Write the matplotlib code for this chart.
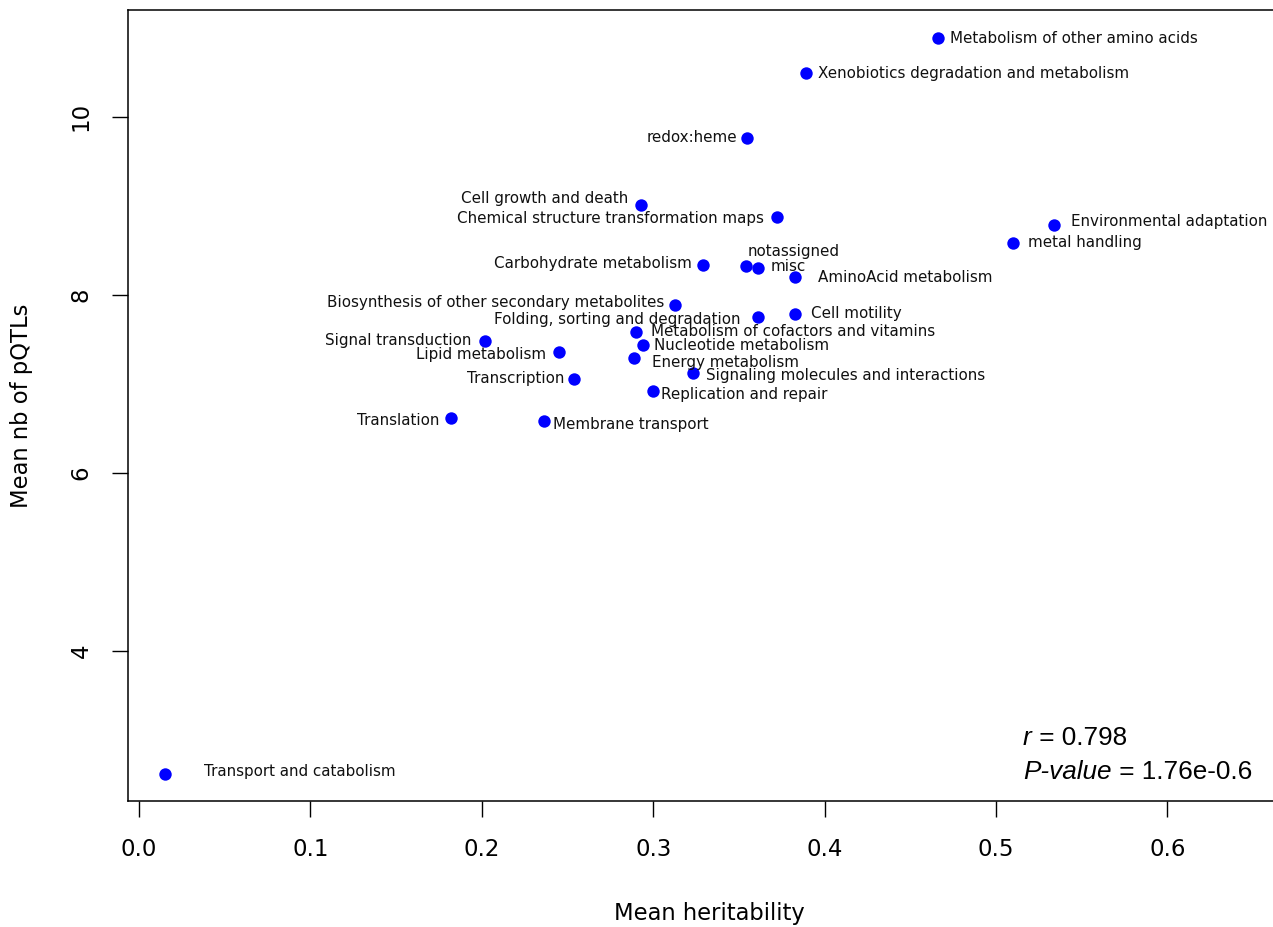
import matplotlib
matplotlib.use("Agg")
import matplotlib.pyplot as plt

# pathway categories, mean heritability (x) and mean number of pQTLs (y)
pathways = [
    "Metabolism of other amino acids", "Xenobiotics degradation and metabolism",
    "redox:heme", "Cell growth and death", "Chemical structure transformation maps",
    "Environmental adaptation", "metal handling", "Carbohydrate metabolism",
    "notassigned", "misc", "AminoAcid metabolism",
    "Biosynthesis of other secondary metabolites", "Folding, sorting and degradation",
    "Cell motility", "Metabolism of cofactors and vitamins", "Signal transduction",
    "Nucleotide metabolism", "Lipid metabolism", "Energy metabolism",
    "Signaling molecules and interactions", "Transcription", "Replication and repair",
    "Translation", "Membrane transport", "Transport and catabolism",
]
heritability = [0.466, 0.389, 0.355, 0.293, 0.372, 0.534, 0.510, 0.329,
                0.354, 0.361, 0.383, 0.313, 0.361, 0.383, 0.290, 0.202,
                0.294, 0.245, 0.289, 0.323, 0.254, 0.300, 0.182, 0.236, 0.015]
n_pqtls = [10.88, 10.49, 9.76, 9.01, 8.87, 8.78, 8.58, 8.34,
           8.33, 8.30, 8.20, 7.89, 7.75, 7.78, 7.58, 7.48,
           7.44, 7.36, 7.29, 7.12, 7.06, 6.92, 6.62, 6.58, 2.62]

r_value = "0.798"
p_value = "1.76e-0.6"

# label placement: (dx, dy) in pixels, side of the point
label_pos = {
    "Metabolism of other amino acids": (12, 0, "left"),
    "Xenobiotics degradation and metabolism": (12, 0, "left"),
    "redox:heme": (-10, 1, "right"),
    "Cell growth and death": (-13, 6, "right"),
    "Chemical structure transformation maps": (-13, -1, "right"),
    "Environmental adaptation": (17, 4, "left"),
    "metal handling": (15, 1, "left"),
    "Carbohydrate metabolism": (-11, 1, "right"),
    "notassigned": (2, 14, "left"),
    "misc": (13, 2, "left"),
    "AminoAcid metabolism": (23, 0, "left"),
    "Biosynthesis of other secondary metabolites": (-11, 2, "right"),
    "Folding, sorting and degradation": (-17, -2, "right"),
    "Cell motility": (16, 1, "left"),
    "Metabolism of cofactors and vitamins": (15, 1, "left"),
    "Signal transduction": (-14, 1, "right"),
    "Nucleotide metabolism": (11, -1, "left"),
    "Lipid metabolism": (-13, -3, "right"),
    "Energy metabolism": (18, -4, "left"),
    "Signaling molecules and interactions": (13, -2, "left"),
    "Transcription": (-10, 0, "right"),
    "Replication and repair": (8, -3, "left"),
    "Translation": (-12, -3, "right"),
    "Membrane transport": (9, -3, "left"),
    "Transport and catabolism": (39, 2, "left"),
}

W, H = 1273, 927
fig = plt.figure(figsize=(W / 100, H / 100), dpi=100)
# axes box runs a little past the right edge of the figure (cropped like the original)
ax = fig.add_axes([128 / W, (H - 801) / H, (1290 - 128) / W, (801 - 10) / H])

ax.scatter(heritability, n_pqtls, s=80, color="#0000ff", zorder=3, linewidths=0)

for name, x, y in zip(pathways, heritability, n_pqtls):
    dx, dy, side = label_pos[name]
    ax.annotate(name, (x, y), xytext=(dx, dy), textcoords="offset pixels",
                ha=side, va="center", fontsize=10.9, color="#111111")

ax.set_xlim(-0.0064, 0.6715)
ax.set_ylim(2.315, 11.20)
ax.set_xticks([0.0, 0.1, 0.2, 0.3, 0.4, 0.5, 0.6])
ax.set_xticklabels(["0.0", "0.1", "0.2", "0.3", "0.4", "0.5", "0.6"])
ax.set_yticks([4, 6, 8, 10])
ax.set_yticklabels(["4", "6", "8", "10"], rotation=90, va="center")
ax.tick_params(labelsize=16.5, length=11.5, width=1, direction="out")
ax.tick_params(axis="x", pad=15)
ax.tick_params(axis="y", pad=14)
ax.spines["right"].set_visible(False)
for sp in ax.spines.values():
    sp.set_linewidth(1.1)

ax.set_xlabel("Mean heritability", fontsize=16.3, labelpad=30)
ax.set_ylabel("Mean nb of pQTLs", fontsize=16.3, labelpad=26)

# correlation annotation (Arial-like font, italic symbol)
cfont = dict(family="Liberation Sans", fontsize=18.8)
t1 = fig.text(1023 / W, 1 - 745 / H, "r", style="italic", va="baseline", **cfont)
ax.annotate(" = " + r_value, xy=(1, 0), xycoords=t1, va="bottom", **cfont)
t2 = fig.text(1023 / W, 1 - 779 / H, "P-value", style="italic", va="baseline", **cfont)
ax.annotate(" = " + p_value, xy=(1, 0), xycoords=t2, va="bottom", **cfont)

fig.savefig("out.png", dpi=100)
